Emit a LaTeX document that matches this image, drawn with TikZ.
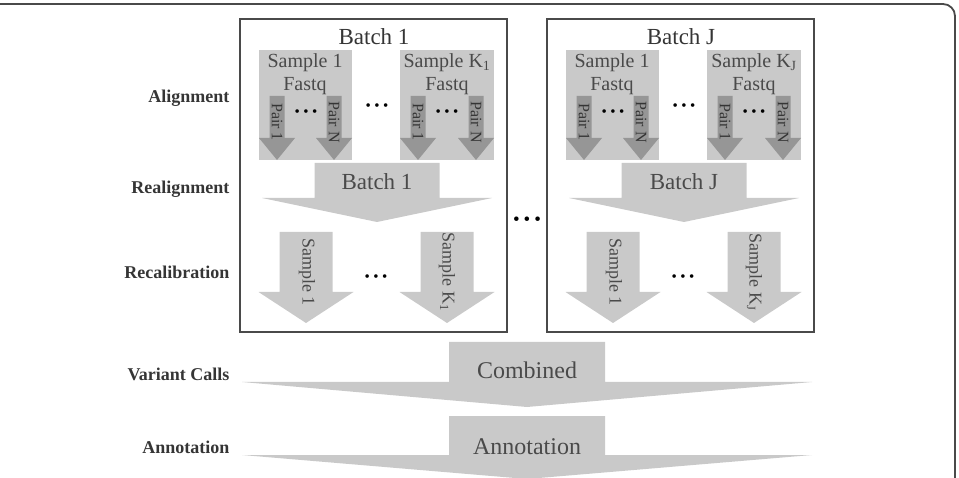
\documentclass[tikz,border=0pt]{standalone}
\usepackage{fontspec}
\setmainfont{Liberation Serif}
\usepackage{tikz}
\definecolor{gris_clair}{HTML}{C9C9C9}
\definecolor{gris_fonce}{HTML}{969696}
\definecolor{texte_fonce}{HTML}{353535}
\definecolor{texte_gris}{HTML}{4A4A4A}
\definecolor{cadre}{HTML}{4A4A4A}

% fleche pleine : couleur, x centre, demi-largeur tige, demi-largeur tete, haut, debut tete, pointe
\newcommand{\fleche}[7]{%
  \fill[#1] ({#2-#3},#5) -- ({#2+#3},#5) -- ({#2+#3},#6) -- ({#2+#4},#6) -- (#2,#7)
    -- ({#2-#4},#6) -- ({#2-#3},#6) -- cycle;}

\begin{document}
\begin{tikzpicture}[x=1pt,y=-1pt,
    etape/.style={anchor=east, font=\fontsize{18}{21}\selectfont\bfseries, text=texte_fonce},
    titre/.style={font=\fontsize{23}{26}\selectfont, text=texte_fonce},
    echant/.style={font=\fontsize{20}{23}\selectfont, text=texte_gris, inner sep=0pt},
    paire/.style={font=\fontsize{16}{18}\selectfont, text=texte_fonce, rotate=-90, inner sep=0pt},
    calib/.style={font=\fontsize{18}{20}\selectfont, text=texte_gris, rotate=-90, inner sep=0pt},
    grand/.style={font=\fontsize{24}{27}\selectfont, text=texte_gris},
    points/.style={font=\fontsize{15}{17}\selectfont, text=black, inner sep=0pt}]

    \useasboundingbox (0,0) rectangle (959,478);

    % Cadre exterieur (haut et droite seulement)
    \draw[cadre, line width=1.8pt, rounded corners=12pt] (0,4) -- (955,4) -- (955,478);

    % Noms des etapes
    \node[etape] (align) at (233,98) {Alignment};
    \node[etape] (realign) at (233,189) {Realignment};
    \node[etape] (recal) at (233,272) {Recalibration};
    \node[etape] (appel) at (233,374) {Variant Calls};
    \node[etape] (annot) at (233,447) {Annotation};

    % Les deux lots : Batch 1 et Batch J
    \foreach \dx/\nom in {0/1, 307/J} {
        \draw[cadre, line width=1.3pt] (240+\dx,19) rectangle (507+\dx,332);
        \node[titre] (titre\nom) at (374+\dx,37) {Batch \nom};

        % echantillons fastq
        \fill[gris_clair] (259+\dx,50) rectangle (352+\dx,160);
        \fill[gris_clair] (400+\dx,50) rectangle (494+\dx,160);
        \node[echant] (ech1\nom) at (305+\dx,63) {Sample 1};
        \node[echant] (fq1\nom) at (305+\dx,86) {Fastq};
        \node[echant] (echK\nom) at (447+\dx,63) {Sample K\textsubscript{\nom}};
        \node[echant] (fqK\nom) at (447+\dx,86) {Fastq};

        % paires
        \foreach \px/\p in {277/a, 334/b, 418/c, 476/d} {
            \fleche{gris_fonce}{\px+\dx}{7.5}{18}{96}{138}{160}
        }
        \node[paire] (pa\nom) at (277+\dx,122) {Pair 1};
        \node[paire] (pb\nom) at (334+\dx,122) {Pair N};
        \node[paire] (pc\nom) at (418+\dx,122) {Pair 1};
        \node[paire] (pd\nom) at (476+\dx,122) {Pair N};
        \node[points] (pts1\nom) at (306+\dx,113) {\textbullet\hspace{3.5pt}\textbullet\hspace{3.5pt}\textbullet};
        \node[points] (pts2\nom) at (447+\dx,113) {\textbullet\hspace{3.5pt}\textbullet\hspace{3.5pt}\textbullet};
        \node[points] (pts3\nom) at (377+\dx,107) {\textbullet\hspace{3.5pt}\textbullet\hspace{3.5pt}\textbullet};

        % realignement
        \fleche{gris_clair}{377+\dx}{62.5}{115}{163}{198}{222}
        \node[titre, text=texte_gris] (real\nom) at (377+\dx,182) {Batch \nom};

        % recalibration
        \fleche{gris_clair}{306+\dx}{26.5}{47.5}{232}{292}{323}
        \fleche{gris_clair}{447+\dx}{26.5}{47.5}{232}{292}{323}
        \node[calib] (rc1\nom) at (307+\dx,272) {Sample 1};
        \node[calib] (rcK\nom) at (447+\dx,272) {Sample K\textsubscript{\nom}};
        \node[points] (pts4\nom) at (376+\dx,278) {\textbullet\hspace{3.5pt}\textbullet\hspace{3.5pt}\textbullet};
    }

    % points entre les lots
    \node[points, font=\fontsize{19}{21}\selectfont] (entre) at (527,221) {\textbullet\hspace{4pt}\textbullet\hspace{4pt}\textbullet};

    % appels de variants et annotation
    \fleche{gris_clair}{527}{78}{285}{342}{382}{407}
    \node[grand] (comb) at (527,370) {Combined};
    \fleche{gris_clair}{527}{78}{285}{416}{455}{479}
    \node[grand] (annotbis) at (527,447) {Annotation};
\end{tikzpicture}
\end{document}
